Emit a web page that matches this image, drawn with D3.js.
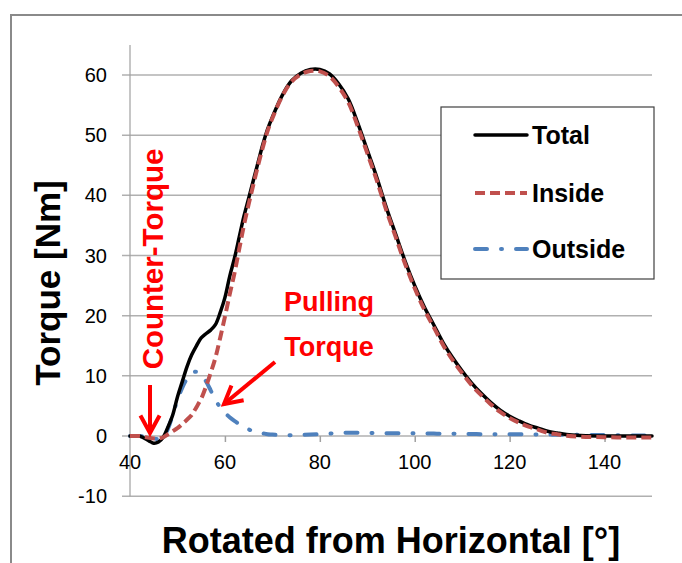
<!DOCTYPE html>
<html>
<head>
<meta charset="utf-8">
<script src="https://cdn.jsdelivr.net/npm/d3@7"></script>
<style>
  html, body { margin: 0; padding: 0; background: #fff; }
  svg { display: block; }
  text { font-family: "Liberation Sans", Arial, sans-serif; }
</style>
</head>
<body>
<svg id="chart" width="682" height="563"></svg>
<script>
const angles = [40,42,44,45,46,47,48,49,50,51,52,53,54,55,56,57,58,59,60,61,62,63,64,65,66,67,68,69,70,72,74,76,78,80,82,84,86,88,90,92,94,96,98,100,102,104,106,108,110,112,114,116,118,120,122,124,126,128,130,132,135,140,145,150];
const totalTorque = [0,0,-0.8,-1.2,-1.0,-0.2,1.5,3.5,6.5,9,11.5,13.5,15,16.3,17,17.6,18.5,20.5,23,26.5,29.5,33,36.5,39.5,42.5,45.5,48.5,51,53,56.5,59,60.3,60.9,60.9,60.2,58.5,56,52,47.5,43,38,33.5,29,25,21.5,18.5,15.5,13,10.8,8.8,7.1,5.6,4.3,3.3,2.5,1.8,1.3,0.8,0.5,0.25,0.1,0,0,0];
const insideTorque = [0,0,-0.3,-0.4,-0.4,-0.2,0.3,0.8,1.3,2,2.7,3.5,4.8,6.2,8.2,10.5,13,16.3,19.8,23.5,27,31,35,38.5,41.8,45,48,50.7,52.8,56.35,58.85,60.1,60.65,60.6,59.8,58,55.45,51.45,47,42.5,37.55,33.05,28.55,24.55,21.05,18.1,15.1,12.6,10.45,8.45,6.8,5.3,4.0,3.0,2.2,1.55,1.05,0.55,0.3,0.05,-0.1,-0.2,-0.25,-0.25];
const outsideTorque = [0,0,-0.2,-0.4,-0.5,-0.2,1.2,3.5,6,8,9.5,10.4,10.7,10.2,9.1,7.6,6.0,4.8,3.9,3.1,2.5,2.0,1.5,1.1,0.8,0.6,0.45,0.3,0.25,0.15,0.15,0.2,0.25,0.3,0.4,0.5,0.55,0.55,0.5,0.5,0.45,0.45,0.45,0.45,0.45,0.4,0.4,0.4,0.35,0.35,0.3,0.3,0.3,0.3,0.3,0.25,0.25,0.25,0.2,0.2,0.2,0.15,0.1,0.1];
const seriesNames = ["Total","Inside","Outside"];
const xTicks = [40,60,80,100,120,140];
const yTicks = [-10,0,10,20,30,40,50,60];
const xDomain = [40,150];
const yDomain = [-10,65];
const xTitle = "Rotated from Horizontal [°]";
const yTitle = "Torque [Nm]";
const annotCounter = "Counter-Torque";
const annotPulling = ["Pulling","Torque"];

const svg = d3.select("#chart");
const x = d3.scaleLinear().domain(xDomain).range([130, 652]);
const y = d3.scaleLinear().domain(yDomain).range([496.2, 44.9]);

// outer frame (partially visible chart border)
svg.append("path").attr("d","M11,563 L11,15 L682,15").attr("fill","none").attr("stroke","#8a8a8a").attr("stroke-width",2);

// gridlines
svg.append("g").selectAll("line").data(yTicks).join("line")
  .attr("x1",122).attr("x2",x(150)).attr("y1",d=>y(d)).attr("y2",d=>y(d))
  .attr("stroke","#b0b0b0").attr("stroke-width",1.5);

// y axis line
svg.append("line").attr("x1",x(40)).attr("x2",x(40)).attr("y1",y(65)).attr("y2",y(-10))
  .attr("stroke","#a0a0a0").attr("stroke-width",1.2);

// x axis ticks at y=0
const xAxis = d3.axisBottom(x).tickValues(xTicks.filter(d=>d>40)).tickSize(6).tickFormat("");
const gx = svg.append("g").attr("transform",`translate(0,${y(0)})`).call(xAxis);
gx.select(".domain").remove();
gx.selectAll(".tick line").attr("stroke","#a0a0a0").attr("stroke-width",1.5);

// x tick labels
svg.append("g").selectAll("text").data(xTicks).join("text")
  .attr("x",d=>x(d)).attr("y",y(0)+33).attr("text-anchor","middle")
  .attr("font-size",20).attr("fill","#000").text(d=>d);

// y tick labels
svg.append("g").selectAll("text").data(yTicks).join("text")
  .attr("x",107).attr("y",d=>y(d)+7).attr("text-anchor","end")
  .attr("font-size",20).attr("fill","#000").text(d=>d);

// axis titles
svg.append("text").attr("x",391).attr("y",553).attr("text-anchor","middle")
  .attr("font-size",36).attr("font-weight","bold").text(xTitle);
svg.append("text").attr("transform","translate(60,283) rotate(-90)").attr("text-anchor","middle")
  .attr("font-size",35).attr("font-weight","bold").text(yTitle);

// series
const line = d3.line().curve(d3.curveCatmullRom.alpha(0.5)).x(d=>x(d[0])).y(d=>y(d[1]));
const mk = arr => angles.map((a,i)=>[a,arr[i]]);
const styles = [
  {data: totalTorque, color:"#000000", dash:null, w:3.5, cap:"round"},
  {data: insideTorque, color:"#C0504D", dash:"10,5", w:4, cap:"butt"},
  {data: outsideTorque, color:"#4F81BD", dash:"12,14,1,14", w:4, cap:"round"}
];
const order = [2,0,1];
order.forEach(i=>{
  const s = styles[i];
  svg.append("path").datum(mk(s.data)).attr("d",line)
    .attr("fill","none").attr("stroke",s.color).attr("stroke-width",s.w)
    .attr("stroke-dasharray",s.dash).attr("stroke-linecap",s.cap).attr("stroke-linejoin","round");
});

// legend
const lg = svg.append("g");
lg.append("rect").attr("x",441).attr("y",107).attr("width",213).attr("height",172)
  .attr("fill","#fff").attr("stroke","#404040").attr("stroke-width",1.2);
const ly = [135,193,249];
seriesNames.forEach((n,i)=>{
  const s = styles[i];
  lg.append("line").attr("x1",475).attr("x2",527).attr("y1",ly[i]).attr("y2",ly[i])
    .attr("stroke",s.color).attr("stroke-width",s.w).attr("stroke-dasharray",s.dash).attr("stroke-linecap",s.cap);
  lg.append("text").attr("x",532).attr("y",ly[i]+9).attr("font-size",25).attr("font-weight","bold").text(n);
});

// annotations
const red = "#FF0000";
svg.append("text").attr("transform","translate(163,259) rotate(-90)").attr("text-anchor","middle")
  .attr("font-size",29.5).attr("font-weight","bold").attr("fill",red).text(annotCounter);
annotPulling.forEach((t,i)=>{
  svg.append("text").attr("x",329).attr("y",311+i*45).attr("text-anchor","middle")
    .attr("font-size",27).attr("font-weight","bold").attr("fill",red).text(t);
});
function arrow(x1,y1,x2,y2){
  svg.append("line").attr("x1",x1).attr("y1",y1).attr("x2",x2).attr("y2",y2)
    .attr("stroke",red).attr("stroke-width",4);
  const ang = Math.atan2(y2-y1,x2-x1), L=20, a=0.5;
  const p1=[x2-L*Math.cos(ang-a), y2-L*Math.sin(ang-a)];
  const p2=[x2-L*Math.cos(ang+a), y2-L*Math.sin(ang+a)];
  svg.append("path").attr("d",`M${p1[0]},${p1[1]} L${x2},${y2} L${p2[0]},${p2[1]}`)
    .attr("fill","none").attr("stroke",red).attr("stroke-width",4).attr("stroke-linejoin","miter");
}
arrow(150,385,150,433);
arrow(275,362,224,404);
</script>
</body>
</html>
